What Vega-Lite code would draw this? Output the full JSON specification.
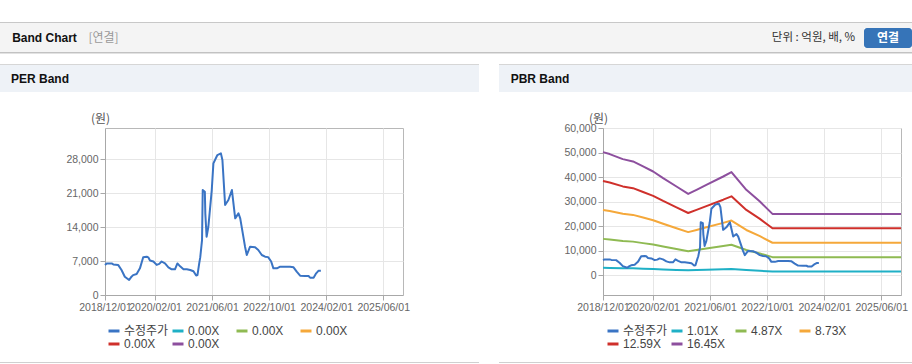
{
  "$schema": "https://vega.github.io/schema/vega-lite/v6.json",
  "padding": {"top": 22, "left": 0, "right": 0, "bottom": 0},
  "background": "#ffffff",
  "data": {"values": [{}]},
  "datasets": {
    "price": [
      {"d": "2018-12-01", "s": "수정주가", "v": 6200},
      {"d": "2018-12-15", "s": "수정주가", "v": 6500},
      {"d": "2019-01-27", "s": "수정주가", "v": 6500},
      {"d": "2019-02-10", "s": "수정주가", "v": 6300},
      {"d": "2019-03-23", "s": "수정주가", "v": 6200},
      {"d": "2019-04-21", "s": "수정주가", "v": 5150},
      {"d": "2019-05-19", "s": "수정주가", "v": 3770},
      {"d": "2019-06-25", "s": "수정주가", "v": 3090},
      {"d": "2019-07-15", "s": "수정주가", "v": 3770},
      {"d": "2019-07-29", "s": "수정주가", "v": 4100},
      {"d": "2019-08-28", "s": "수정주가", "v": 4320},
      {"d": "2019-09-25", "s": "수정주가", "v": 5490},
      {"d": "2019-10-23", "s": "수정주가", "v": 7760},
      {"d": "2019-11-22", "s": "수정주가", "v": 7900},
      {"d": "2019-12-05", "s": "수정주가", "v": 7760},
      {"d": "2019-12-20", "s": "수정주가", "v": 7100},
      {"d": "2020-01-18", "s": "수정주가", "v": 6900},
      {"d": "2020-02-15", "s": "수정주가", "v": 6200},
      {"d": "2020-03-08", "s": "수정주가", "v": 6400},
      {"d": "2020-03-28", "s": "수정주가", "v": 6900},
      {"d": "2020-04-26", "s": "수정주가", "v": 6500},
      {"d": "2020-05-25", "s": "수정주가", "v": 5700},
      {"d": "2020-06-22", "s": "수정주가", "v": 5290},
      {"d": "2020-07-20", "s": "수정주가", "v": 5290},
      {"d": "2020-08-10", "s": "수정주가", "v": 6500},
      {"d": "2020-09-02", "s": "수정주가", "v": 5900},
      {"d": "2020-10-01", "s": "수정주가", "v": 5290},
      {"d": "2020-10-29", "s": "수정주가", "v": 5290},
      {"d": "2020-11-27", "s": "수정주가", "v": 5150},
      {"d": "2020-12-25", "s": "수정주가", "v": 4900},
      {"d": "2021-01-17", "s": "수정주가", "v": 4000},
      {"d": "2021-01-28", "s": "수정주가", "v": 4100},
      {"d": "2021-02-12", "s": "수정주가", "v": 6500},
      {"d": "2021-02-21", "s": "수정주가", "v": 7800},
      {"d": "2021-03-08", "s": "수정주가", "v": 11320},
      {"d": "2021-03-14", "s": "수정주가", "v": 21620},
      {"d": "2021-04-01", "s": "수정주가", "v": 21270},
      {"d": "2021-04-05", "s": "수정주가", "v": 16820},
      {"d": "2021-04-16", "s": "수정주가", "v": 12000},
      {"d": "2021-05-01", "s": "수정주가", "v": 14060},
      {"d": "2021-05-30", "s": "수정주가", "v": 21620},
      {"d": "2021-06-13", "s": "수정주가", "v": 27120},
      {"d": "2021-07-17", "s": "수정주가", "v": 28830},
      {"d": "2021-08-16", "s": "수정주가", "v": 29170},
      {"d": "2021-08-29", "s": "수정주가", "v": 27800},
      {"d": "2021-09-21", "s": "수정주가", "v": 18530},
      {"d": "2021-10-19", "s": "수정주가", "v": 19560},
      {"d": "2021-11-18", "s": "수정주가", "v": 21620},
      {"d": "2021-12-16", "s": "수정주가", "v": 15790},
      {"d": "2022-01-13", "s": "수정주가", "v": 16820},
      {"d": "2022-01-28", "s": "수정주가", "v": 15790},
      {"d": "2022-03-10", "s": "수정주가", "v": 9950},
      {"d": "2022-03-25", "s": "수정주가", "v": 8240},
      {"d": "2022-04-22", "s": "수정주가", "v": 9950},
      {"d": "2022-06-04", "s": "수정주가", "v": 9820},
      {"d": "2022-07-01", "s": "수정주가", "v": 9270},
      {"d": "2022-07-31", "s": "수정주가", "v": 8240},
      {"d": "2022-08-28", "s": "수정주가", "v": 7890},
      {"d": "2022-09-23", "s": "수정주가", "v": 7800},
      {"d": "2022-10-19", "s": "수정주가", "v": 6900},
      {"d": "2022-11-07", "s": "수정주가", "v": 5490},
      {"d": "2022-12-07", "s": "수정주가", "v": 5490},
      {"d": "2023-01-04", "s": "수정주가", "v": 5830},
      {"d": "2023-03-29", "s": "수정주가", "v": 5830},
      {"d": "2023-04-28", "s": "수정주가", "v": 5700},
      {"d": "2023-05-25", "s": "수정주가", "v": 4800},
      {"d": "2023-06-23", "s": "수정주가", "v": 3980},
      {"d": "2023-08-04", "s": "수정주가", "v": 3910},
      {"d": "2023-09-03", "s": "수정주가", "v": 3910},
      {"d": "2023-09-16", "s": "수정주가", "v": 3570},
      {"d": "2023-10-16", "s": "수정주가", "v": 3570},
      {"d": "2023-11-07", "s": "수정주가", "v": 4460},
      {"d": "2023-11-28", "s": "수정주가", "v": 5010},
      {"d": "2023-12-17", "s": "수정주가", "v": 5010}
    ],
    "bands": [
      {"d": "2018-12-01", "s": "1.01X", "v": 3081}, {"d": "2019-01-27", "s": "1.01X", "v": 3032}, {"d": "2019-05-19", "s": "1.01X", "v": 2906}, {"d": "2019-08-14", "s": "1.01X", "v": 2848}, {"d": "2019-11-08", "s": "1.01X", "v": 2722}, {"d": "2020-02-02", "s": "1.01X", "v": 2597}, {"d": "2020-04-27", "s": "1.01X", "v": 2430}, {"d": "2020-08-19", "s": "1.01X", "v": 2221}, {"d": "2020-11-27", "s": "1.01X", "v": 2037}, {"d": "2021-02-06", "s": "1.01X", "v": 2138}, {"d": "2021-05-01", "s": "1.01X", "v": 2263}, {"d": "2021-09-22", "s": "1.01X", "v": 2471}, {"d": "2021-12-01", "s": "1.01X", "v": 2581}, {"d": "2022-04-07", "s": "1.01X", "v": 2138}, {"d": "2022-08-01", "s": "1.01X", "v": 1845}, {"d": "2022-11-16", "s": "1.01X", "v": 1536}, {"d": "2025-11-17", "s": "1.01X", "v": 1536},
      {"d": "2018-12-01", "s": "4.87X", "v": 14854}, {"d": "2019-01-27", "s": "4.87X", "v": 14620}, {"d": "2019-05-19", "s": "4.87X", "v": 14011}, {"d": "2019-08-14", "s": "4.87X", "v": 13733}, {"d": "2019-11-08", "s": "4.87X", "v": 13125}, {"d": "2020-02-02", "s": "4.87X", "v": 12521}, {"d": "2020-04-27", "s": "4.87X", "v": 11717}, {"d": "2020-08-19", "s": "4.87X", "v": 10709}, {"d": "2020-11-27", "s": "4.87X", "v": 9823}, {"d": "2021-02-06", "s": "4.87X", "v": 10310}, {"d": "2021-05-01", "s": "4.87X", "v": 10914}, {"d": "2021-09-22", "s": "4.87X", "v": 11917}, {"d": "2021-12-01", "s": "4.87X", "v": 12443}, {"d": "2022-04-07", "s": "4.87X", "v": 10310}, {"d": "2022-08-01", "s": "4.87X", "v": 8897}, {"d": "2022-11-16", "s": "4.87X", "v": 7407}, {"d": "2025-11-17", "s": "4.87X", "v": 7407},
      {"d": "2018-12-01", "s": "8.73X", "v": 26627}, {"d": "2019-01-27", "s": "8.73X", "v": 26207}, {"d": "2019-05-19", "s": "8.73X", "v": 25116}, {"d": "2019-08-14", "s": "8.73X", "v": 24619}, {"d": "2019-11-08", "s": "8.73X", "v": 23527}, {"d": "2020-02-02", "s": "8.73X", "v": 22445}, {"d": "2020-04-27", "s": "8.73X", "v": 21004}, {"d": "2020-08-19", "s": "8.73X", "v": 19197}, {"d": "2020-11-27", "s": "8.73X", "v": 17608}, {"d": "2021-02-06", "s": "8.73X", "v": 18481}, {"d": "2021-05-01", "s": "8.73X", "v": 19564}, {"d": "2021-09-22", "s": "8.73X", "v": 21362}, {"d": "2021-12-01", "s": "8.73X", "v": 22305}, {"d": "2022-04-07", "s": "8.73X", "v": 18481}, {"d": "2022-08-01", "s": "8.73X", "v": 15950}, {"d": "2022-11-16", "s": "8.73X", "v": 13278}, {"d": "2025-11-17", "s": "8.73X", "v": 13278},
      {"d": "2018-12-01", "s": "12.59X", "v": 38400}, {"d": "2019-01-27", "s": "12.59X", "v": 37795}, {"d": "2019-05-19", "s": "12.59X", "v": 36221}, {"d": "2019-08-14", "s": "12.59X", "v": 35504}, {"d": "2019-11-08", "s": "12.59X", "v": 33930}, {"d": "2020-02-02", "s": "12.59X", "v": 32369}, {"d": "2020-04-27", "s": "12.59X", "v": 30292}, {"d": "2020-08-19", "s": "12.59X", "v": 27685}, {"d": "2020-11-27", "s": "12.59X", "v": 25394}, {"d": "2021-02-06", "s": "12.59X", "v": 26653}, {"d": "2021-05-01", "s": "12.59X", "v": 28214}, {"d": "2021-09-22", "s": "12.59X", "v": 30808}, {"d": "2021-12-01", "s": "12.59X", "v": 32167}, {"d": "2022-04-07", "s": "12.59X", "v": 26653}, {"d": "2022-08-01", "s": "12.59X", "v": 23002}, {"d": "2022-11-16", "s": "12.59X", "v": 19149}, {"d": "2025-11-17", "s": "12.59X", "v": 19149},
      {"d": "2018-12-01", "s": "16.45X", "v": 50173}, {"d": "2019-01-27", "s": "16.45X", "v": 49383}, {"d": "2019-05-19", "s": "16.45X", "v": 47327}, {"d": "2019-08-14", "s": "16.45X", "v": 46389}, {"d": "2019-11-08", "s": "16.45X", "v": 44333}, {"d": "2020-02-02", "s": "16.45X", "v": 42293}, {"d": "2020-04-27", "s": "16.45X", "v": 39579}, {"d": "2020-08-19", "s": "16.45X", "v": 36174}, {"d": "2020-11-27", "s": "16.45X", "v": 33180}, {"d": "2021-02-06", "s": "16.45X", "v": 34825}, {"d": "2021-05-01", "s": "16.45X", "v": 36865}, {"d": "2021-09-22", "s": "16.45X", "v": 40253}, {"d": "2021-12-01", "s": "16.45X", "v": 42030}, {"d": "2022-04-07", "s": "16.45X", "v": 34825}, {"d": "2022-08-01", "s": "16.45X", "v": 30054}, {"d": "2022-11-16", "s": "16.45X", "v": 25020}, {"d": "2025-11-17", "s": "16.45X", "v": 25020}
    ]
  },
  "config": {
    "view": {"stroke": null},
    "axis": {
      "domainColor": "#a8a8a8", "tickColor": "#a8a8a8", "gridColor": "#e6e6e6",
      "labelColor": "#666666", "labelFont": "Liberation Sans", "labelFontSize": 10.5,
      "tickSize": 5, "labelPadding": 2,
      "titleFont": "Noto Sans CJK KR", "titleFontSize": 12, "titleFontWeight": "normal", "titleColor": "#555555"
    },
    "legend": {"padding": 0},
    "rect": {"opacity": 0}
  },
  "spacing": 10,
  "vconcat": [
    {
      "columns": 6, "bounds": "flush", "align": "each", "spacing": 0,
      "concat": [
        {"width": 89, "height": 1, "mark": "rect", "view": {"fill": "#c8c8c8"}},
        {"width": 29, "height": 1, "mark": "rect", "view": {"fill": "#c8c8c8"}},
        {"width": 649, "height": 1, "mark": "rect", "view": {"fill": "#c8c8c8"}},
        {"width": 93, "height": 1, "mark": "rect", "view": {"fill": "#c8c8c8"}},
        {"width": 4, "height": 1, "mark": "rect", "view": {"fill": "#c8c8c8"}},
        {"width": 48, "height": 1, "mark": "rect", "view": {"fill": "#c8c8c8"}},

        {"width": 89, "height": 5, "mark": "rect", "view": {"fill": "#f4f4f4"}},
        {"width": 29, "height": 5, "mark": "rect", "view": {"fill": "#f4f4f4"}},
        {"width": 649, "height": 5, "mark": "rect", "view": {"fill": "#f4f4f4"}},
        {"width": 93, "height": 5, "mark": "rect", "view": {"fill": "#f4f4f4"}},
        {"width": 4, "height": 5, "mark": "rect", "view": {"fill": "#f4f4f4"}},
        {"width": 48, "height": 5, "mark": "rect", "view": {"fill": "#f4f4f4"}},

        {"width": 89, "height": 20, "data": {"values": [{"t": "Band Chart"}]}, "mark": {"type": "text", "font": "Liberation Sans", "fontSize": 12, "fontWeight": "bold", "color": "#111111"}, "encoding": {"text": {"field": "t"}}, "view": {"fill": "#f4f4f4"}},
        {"width": 29, "height": 20, "data": {"values": [{"t": "[연결]"}]}, "mark": {"type": "text", "font": "Noto Sans CJK KR", "fontSize": 12, "color": "#999999"}, "encoding": {"text": {"field": "t"}}, "view": {"fill": "#f4f4f4"}},
        {"width": 649, "height": 20, "mark": "rect", "view": {"fill": "#f4f4f4"}},
        {"width": 93, "height": 20, "data": {"values": [{"t": "단위 : 억원, 배, %"}]}, "mark": {"type": "text", "font": "Noto Sans CJK KR", "fontSize": 11.5, "color": "#333333"}, "encoding": {"text": {"field": "t"}}, "view": {"fill": "#f4f4f4"}},
        {"width": 4, "height": 20, "mark": "rect", "view": {"fill": "#f4f4f4"}},
        {"width": 48, "height": 20, "data": {"values": [{"t": "연결"}]}, "mark": {"type": "text", "font": "Noto Sans CJK KR", "fontSize": 12, "fontWeight": "bold", "color": "#ffffff"}, "encoding": {"text": {"field": "t"}}, "view": {"fill": "#3674b8", "cornerRadius": 3}},

        {"width": 89, "height": 4, "mark": "rect", "view": {"fill": "#f4f4f4"}},
        {"width": 29, "height": 4, "mark": "rect", "view": {"fill": "#f4f4f4"}},
        {"width": 649, "height": 4, "mark": "rect", "view": {"fill": "#f4f4f4"}},
        {"width": 93, "height": 4, "mark": "rect", "view": {"fill": "#f4f4f4"}},
        {"width": 4, "height": 4, "mark": "rect", "view": {"fill": "#f4f4f4"}},
        {"width": 48, "height": 4, "mark": "rect", "view": {"fill": "#f4f4f4"}},

        {"width": 89, "height": 1, "mark": "rect", "view": {"fill": "#c2c2c2"}},
        {"width": 29, "height": 1, "mark": "rect", "view": {"fill": "#c2c2c2"}},
        {"width": 649, "height": 1, "mark": "rect", "view": {"fill": "#c2c2c2"}},
        {"width": 93, "height": 1, "mark": "rect", "view": {"fill": "#c2c2c2"}},
        {"width": 4, "height": 1, "mark": "rect", "view": {"fill": "#c2c2c2"}},
        {"width": 48, "height": 1, "mark": "rect", "view": {"fill": "#c2c2c2"}},

        {"width": 89, "height": 1, "mark": "rect", "view": {"fill": "#e2e2e2"}},
        {"width": 29, "height": 1, "mark": "rect", "view": {"fill": "#e2e2e2"}},
        {"width": 649, "height": 1, "mark": "rect", "view": {"fill": "#e2e2e2"}},
        {"width": 93, "height": 1, "mark": "rect", "view": {"fill": "#e2e2e2"}},
        {"width": 4, "height": 1, "mark": "rect", "view": {"fill": "#e2e2e2"}},
        {"width": 48, "height": 1, "mark": "rect", "view": {"fill": "#e2e2e2"}}
      ]
    },
    {
      "columns": 7, "bounds": "flush", "align": "each", "spacing": 0,
      "resolve": {"scale": {"x": "independent", "y": "independent", "color": "independent"}},
      "concat": [
        {"width": 80, "height": 1, "mark": "rect", "view": {"fill": "#d6d6d6"}},
        {"width": 25, "height": 1, "mark": "rect", "view": {"fill": "#d6d6d6"}},
        {"width": 374, "height": 1, "mark": "rect", "view": {"fill": "#d6d6d6"}},
        {"width": 20, "height": 1, "mark": "rect"},
        {"width": 82, "height": 1, "mark": "rect", "view": {"fill": "#d6d6d6"}},
        {"width": 22, "height": 1, "mark": "rect", "view": {"fill": "#d6d6d6"}},
        {"width": 309, "height": 1, "mark": "rect", "view": {"fill": "#d6d6d6"}},

        {"width": 80, "height": 27, "data": {"values": [{"t": "PER Band"}]}, "mark": {"type": "text", "font": "Liberation Sans", "fontSize": 12, "fontWeight": "bold", "color": "#111111"}, "encoding": {"text": {"field": "t"}}, "view": {"fill": "#eef2f7"}},
        {"width": 25, "height": 27, "mark": "rect", "view": {"fill": "#eef2f7"}},
        {"width": 374, "height": 27, "mark": "rect", "view": {"fill": "#eef2f7"}},
        {"width": 20, "height": 27, "mark": "rect"},
        {"width": 82, "height": 27, "data": {"values": [{"t": "PBR Band"}]}, "mark": {"type": "text", "font": "Liberation Sans", "fontSize": 12, "fontWeight": "bold", "color": "#111111"}, "encoding": {"text": {"field": "t"}}, "view": {"fill": "#eef2f7"}},
        {"width": 22, "height": 27, "mark": "rect", "view": {"fill": "#eef2f7"}},
        {"width": 309, "height": 27, "mark": "rect", "view": {"fill": "#eef2f7"}},

        {"width": 80, "height": 36, "mark": "rect"},
        {"width": 25, "height": 36, "mark": "rect"},
        {"width": 374, "height": 36, "mark": "rect"},
        {"width": 20, "height": 36, "mark": "rect"},
        {"width": 82, "height": 36, "mark": "rect"},
        {"width": 22, "height": 36, "mark": "rect"},
        {"width": 309, "height": 36, "mark": "rect"},

        {"width": 80, "height": 167, "mark": "rect"},
        {"width": 25, "height": 167, "mark": "rect"},
        {
          "width": 298, "height": 167,
          "view": {"stroke": "#b8b8b8"},
          "data": {"name": "price"},
          "mark": {"type": "line", "strokeWidth": 2, "strokeJoin": "round"},
          "encoding": {
            "x": {"field": "d", "type": "temporal",
              "scale": {"type": "utc", "domain": [{"year": 2018, "month": 12, "date": 1, "utc": true}, {"year": 2025, "month": 11, "date": 17, "utc": true}]},
              "axis": {"title": null, "format": "%Y/%m/%d", "labelAngle": 0, "labelFlush": false, "labelOverlap": false, "grid": true,
                "values": [{"year": 2018, "month": 12, "date": 1, "utc": true}, {"year": 2020, "month": 2, "date": 1, "utc": true}, {"year": 2021, "month": 6, "date": 1, "utc": true}, {"year": 2022, "month": 10, "date": 1, "utc": true}, {"year": 2024, "month": 2, "date": 1, "utc": true}, {"year": 2025, "month": 6, "date": 1, "utc": true}]}},
            "y": {"field": "v", "type": "quantitative",
              "scale": {"domain": [0, 34400], "nice": false, "zero": false},
              "axis": {"title": "(원)", "titleAngle": 0, "titleX": -5, "titleY": -10, "titleAlign": "center", "titleBaseline": "middle", "format": ",d", "grid": true, "values": [0, 7000, 14000, 21000, 28000]}},
            "color": {"field": "s", "type": "nominal",
              "scale": {"domain": ["수정주가", "b1", "b2", "b3", "b4", "b5"], "range": ["#3a74c4", "#1fb0c6", "#8fba52", "#f5a83a", "#cf302b", "#8d4f9e"]},
              "legend": {"title": null, "orient": "none", "legendX": 2, "legendY": 196, "direction": "horizontal", "columns": 4, "gridAlign": "all", "columnPadding": -3, "rowPadding": 0,
                "symbolType": "stroke", "symbolSize": 121, "symbolStrokeWidth": 3, "labelOffset": 3,
                "labelFont": "Liberation Sans, Noto Sans CJK KR", "labelFontSize": 12, "labelColor": "#444444",
                "labelExpr": "datum.label == '수정주가' ? datum.label : '0.00X'"}}
          }
        },
        {"width": 20, "height": 167, "mark": "rect"},
        {"width": 82, "height": 167, "mark": "rect"},
        {"width": 22, "height": 167, "mark": "rect"},
        {
          "width": 298, "height": 167,
          "view": {"stroke": "#b8b8b8"},
          "encoding": {
            "x": {"field": "d", "type": "temporal",
              "scale": {"type": "utc", "domain": [{"year": 2018, "month": 12, "date": 1, "utc": true}, {"year": 2025, "month": 11, "date": 17, "utc": true}]},
              "axis": {"title": null, "format": "%Y/%m/%d", "labelAngle": 0, "labelFlush": false, "labelOverlap": false, "grid": true,
                "values": [{"year": 2018, "month": 12, "date": 1, "utc": true}, {"year": 2020, "month": 2, "date": 1, "utc": true}, {"year": 2021, "month": 6, "date": 1, "utc": true}, {"year": 2022, "month": 10, "date": 1, "utc": true}, {"year": 2024, "month": 2, "date": 1, "utc": true}, {"year": 2025, "month": 6, "date": 1, "utc": true}]}},
            "y": {"field": "v", "type": "quantitative",
              "scale": {"domain": [-8000, 60000], "nice": false, "zero": false},
              "axis": {"title": "(원)", "titleAngle": 0, "titleX": -5, "titleY": -10, "titleAlign": "center", "titleBaseline": "middle", "format": ",d", "grid": true, "values": [0, 10000, 20000, 30000, 40000, 50000, 60000]}},
            "color": {"field": "s", "type": "nominal",
              "scale": {"domain": ["수정주가", "1.01X", "4.87X", "8.73X", "12.59X", "16.45X"], "range": ["#3a74c4", "#1fb0c6", "#8fba52", "#f5a83a", "#cf302b", "#8d4f9e"]},
              "legend": {"title": null, "orient": "none", "legendX": 3, "legendY": 196, "direction": "horizontal", "columns": 4, "gridAlign": "all", "columnPadding": -3, "rowPadding": 0,
                "symbolType": "stroke", "symbolSize": 121, "symbolStrokeWidth": 3, "labelOffset": 3,
                "labelFont": "Liberation Sans, Noto Sans CJK KR", "labelFontSize": 12, "labelColor": "#444444"}}
          },
          "layer": [
            {"data": {"name": "bands"}, "mark": {"type": "line", "strokeWidth": 2, "strokeJoin": "round", "opacity": 1}},
            {"data": {"name": "price"}, "mark": {"type": "line", "strokeWidth": 2, "strokeJoin": "round", "opacity": 1}}
          ]
        },

        {"width": 80, "height": 67, "mark": "rect"},
        {"width": 25, "height": 67, "mark": "rect"},
        {"width": 374, "height": 67, "mark": "rect"},
        {"width": 20, "height": 67, "mark": "rect"},
        {"width": 82, "height": 67, "mark": "rect"},
        {"width": 22, "height": 67, "mark": "rect"},
        {"width": 309, "height": 67, "mark": "rect"},

        {"width": 80, "height": 1, "mark": "rect", "view": {"fill": "#d0d0d0"}},
        {"width": 25, "height": 1, "mark": "rect", "view": {"fill": "#d0d0d0"}},
        {"width": 374, "height": 1, "mark": "rect", "view": {"fill": "#d0d0d0"}},
        {"width": 20, "height": 1, "mark": "rect"},
        {"width": 82, "height": 1, "mark": "rect", "view": {"fill": "#d0d0d0"}},
        {"width": 22, "height": 1, "mark": "rect", "view": {"fill": "#d0d0d0"}},
        {"width": 309, "height": 1, "mark": "rect", "view": {"fill": "#d0d0d0"}}
      ]
    }
  ]
}
